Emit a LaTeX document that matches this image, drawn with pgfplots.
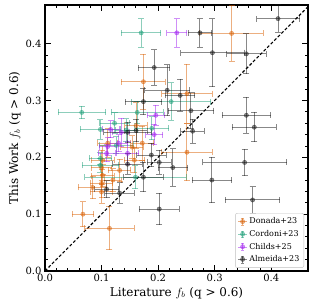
\documentclass[border=0pt]{standalone}
\usepackage{fontspec}
\setmainfont{DejaVu Serif}
\usepackage{pgfplots}
\usepackage{pgfplotstable}
\pgfplotsset{compat=1.18}
\definecolor{cor}{HTML}{D95F02}
\definecolor{cgr}{HTML}{1B9E77}
\definecolor{cpu}{HTML}{A020F0}
\definecolor{cbk}{HTML}{111111}

\pgfplotstableread{
x y ex ey
0.251 0.312 0.045 0.052
0.251 0.209 0.045 0.050
0.330 0.418 0.056 0.049
0.174 0.333 0.039 0.048
0.067 0.100 0.019 0.022
0.114 0.075 0.044 0.038
0.084 0.147 0.025 0.020
0.100 0.154 0.020 0.025
0.102 0.168 0.020 0.020
0.100 0.182 0.018 0.030
0.102 0.195 0.020 0.025
0.132 0.177 0.020 0.020
0.100 0.139 0.020 0.020
0.111 0.225 0.018 0.025
0.172 0.225 0.020 0.030
0.154 0.218 0.020 0.020
0.161 0.256 0.020 0.040
0.158 0.195 0.018 0.022
0.120 0.160 0.015 0.020
}\donada

\pgfplotstableread{
x y ex ey
0.170 0.419 0.035 0.025
0.065 0.279 0.042 0.011
0.098 0.249 0.036 0.017
0.123 0.260 0.026 0.018
0.189 0.251 0.030 0.020
0.223 0.298 0.070 0.033
0.098 0.186 0.032 0.012
0.098 0.198 0.020 0.010
0.163 0.279 0.046 0.020
0.126 0.221 0.030 0.015
0.160 0.165 0.090 0.020
0.144 0.248 0.020 0.020
}\cordoni

\pgfplotstableread{
x y ex ey
0.233 0.419 0.018 0.025
0.196 0.274 0.015 0.018
0.193 0.240 0.015 0.018
0.116 0.249 0.015 0.015
0.109 0.207 0.015 0.015
0.111 0.219 0.015 0.015
0.146 0.207 0.020 0.020
0.135 0.244 0.015 0.025
0.130 0.225 0.015 0.015
}\childs

\pgfplotstableread{
x y ex ey
0.412 0.444 0.038 0.024
0.296 0.384 0.056 0.060
0.356 0.382 0.035 0.035
0.274 0.419 0.021 0.025
0.193 0.358 0.028 0.031
0.216 0.318 0.040 0.045
0.239 0.309 0.026 0.028
0.174 0.298 0.032 0.023
0.258 0.282 0.040 0.032
0.261 0.246 0.021 0.021
0.356 0.274 0.043 0.032
0.370 0.253 0.039 0.026
0.353 0.191 0.074 0.023
0.295 0.160 0.035 0.040
0.367 0.125 0.048 0.023
0.202 0.109 0.035 0.028
0.226 0.182 0.026 0.033
0.109 0.144 0.021 0.015
0.132 0.137 0.026 0.018
0.174 0.165 0.035 0.026
0.188 0.204 0.026 0.021
0.146 0.244 0.042 0.018
0.146 0.188 0.026 0.018
0.202 0.191 0.021 0.021
0.161 0.247 0.020 0.020
}\almeida

\pgfplotsset{
  ebar/.style={
    only marks, mark=*, mark size=2.2pt, color=#1, opacity=0.5,
    mark options={fill=#1, draw=#1},
    error bars/.cd, x dir=both, y dir=both, x explicit, y explicit,
    error bar style={color=#1, line width=1pt},
    error mark options={rotate=90, mark size=3pt, line width=1pt, color=#1},
  },
}

\begin{document}
\begin{tikzpicture}
\begin{axis}[
  width=263pt, height=266pt, scale only axis,
  xmin=0, xmax=0.465, ymin=0, ymax=0.468,
  xtick={0,0.1,0.2,0.3,0.4}, ytick={0,0.1,0.2,0.3,0.4},
  minor tick num=4,
  tick align=inside,
  xtick pos=both, ytick pos=both,
  major tick length=6pt, minor tick length=3pt,
  every tick/.style={black, line width=0.8pt},
  axis line style={line width=1.8pt},
  tick label style={font=\fontsize{10}{11}\selectfont},
  /pgf/number format/.cd, fixed, fixed zerofill, precision=1, assume math mode=true,
  /pgfplots/.cd,
  xlabel={Literature $f_b$ (q > 0.6)},
  ylabel={This Work $f_b$ (q > 0.6)},
  label style={font=\fontsize{12}{13}\selectfont},
  xlabel style={yshift=2pt},
  ylabel style={yshift=-2pt},
  legend style={font=\fontsize{8}{9}\selectfont, draw=black!25, rounded corners=2pt,
    at={(0.985,0.012)}, anchor=south east, row sep=1pt, inner sep=2.5pt},
  legend cell align=left,
  legend image code/.code={
    \draw[#1, mark=none] (0.22cm,-0.12cm) -- (0.22cm,0.12cm);
    \draw[#1, mark=none] (0.06cm,0cm) -- (0.38cm,0cm);
    \draw[#1, mark=none] (0.16cm,-0.12cm) -- (0.28cm,-0.12cm) (0.16cm,0.12cm) -- (0.28cm,0.12cm);
    \draw[#1] plot coordinates {(0.22cm,0cm)};
  },
]
\addplot[black, dashed, line width=1.1pt, dash pattern=on 3pt off 2pt, forget plot] coordinates {(0,0) (0.5,0.5)};
\addplot[ebar=cor] table[x=x, y=y, x error=ex, y error=ey] {\donada};
\addlegendentry{Donada+23}
\addplot[ebar=cgr] table[x=x, y=y, x error=ex, y error=ey] {\cordoni};
\addlegendentry{Cordoni+23}
\addplot[ebar=cpu] table[x=x, y=y, x error=ex, y error=ey] {\childs};
\addlegendentry{Childs+25}
\addplot[ebar=cbk] table[x=x, y=y, x error=ex, y error=ey] {\almeida};
\addlegendentry{Almeida+23}
\coordinate (tr) at (rel axis cs:1,1);
\coordinate (bl) at (rel axis cs:0,0);
\end{axis}
\path (tr) ++(9pt,5pt);
\path (bl) ++(-45pt,-36pt);
\end{tikzpicture}
\end{document}
